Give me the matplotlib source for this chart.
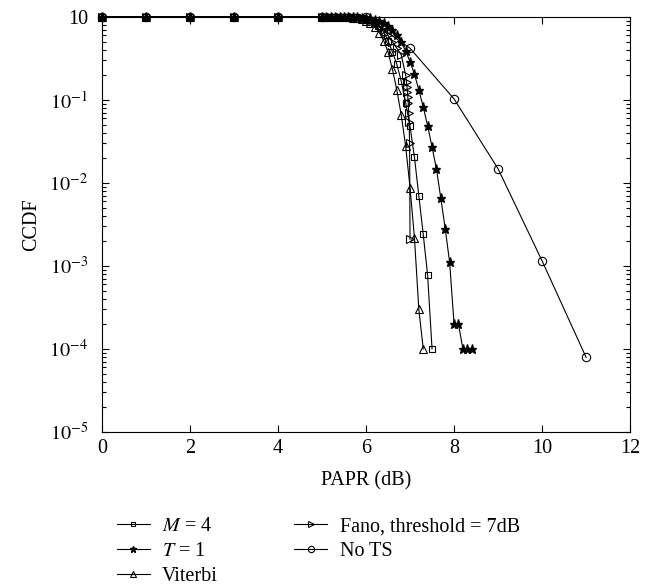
"""CCDF of PAPR for the tree-search schemes"""

import numpy as np
import matplotlib
matplotlib.use("Agg")
import matplotlib.pyplot as plt
from matplotlib.ticker import LogLocator, NullFormatter

plt.rcParams['font.family'] = ['Liberation Serif', 'DejaVu Serif']
plt.rcParams['mathtext.fontset'] = 'stix'
plt.rcParams['font.size'] = 14.5

# shared PAPR grid (dB)
papr_fine = [0, 1, 2, 3, 4, 5.0, 5.1, 5.2, 5.3, 5.4, 5.5, 5.6, 5.7, 5.8, 5.9,
             6.0, 6.1, 6.2, 6.3, 6.4, 6.5, 6.6, 6.7, 6.8, 6.9, 7.0, 7.1, 7.2,
             7.3, 7.4, 7.5, 7.6, 7.7, 7.8, 7.9, 8.0, 8.1, 8.2, 8.3, 8.4]

ccdf_m4 = [1, 1, 1, 1, 1, 1, 1, 1, 1, 1, 1, 0.998, 0.995, 0.99, 0.975,
           0.95, 0.91, 0.85, 0.77, 0.66, 0.52, 0.38, 0.27, 0.169, 0.093,
           0.048, 0.0205, 0.0070, 0.0024, 7.7e-4, 1.0e-4]

ccdf_t1 = [1, 1, 1, 1, 1, 1, 1, 1, 1, 1, 0.999, 0.998, 0.995, 0.99, 0.985,
           0.975, 0.96, 0.93, 0.89, 0.84, 0.77, 0.69, 0.6, 0.5, 0.39,
           0.29, 0.205, 0.132, 0.082, 0.049, 0.027, 0.0148, 0.0065, 0.0028,
           0.0011, 2e-4, 2e-4, 1e-4, 1e-4, 1e-4]

ccdf_viterbi = [1, 1, 1, 1, 1, 1, 1, 1, 0.999, 0.998, 0.995, 0.99, 0.98,
                0.965, 0.94, 0.9, 0.84, 0.76, 0.65, 0.52, 0.38, 0.234, 0.132,
                0.066, 0.028, 0.0088, 0.0022, 3.0e-4, 1.0e-4]

papr_fano = [0, 1, 2, 3, 4, 5.0, 5.1, 5.2, 5.3, 5.4, 5.5, 5.6, 5.7, 5.8, 5.9,
             6.0, 6.1, 6.2, 6.3, 6.4, 6.5, 6.6, 6.7, 6.8, 6.9, 6.92, 6.93,
             6.94, 6.95, 6.96, 6.97, 6.98, 6.99, 7.0]
ccdf_fano = [1, 1, 1, 1, 1, 1, 1, 1, 1, 1, 1, 0.998, 0.995, 0.99, 0.98,
             0.96, 0.93, 0.88, 0.8, 0.7, 0.6, 0.5, 0.42, 0.35, 0.2, 0.166,
             0.145, 0.126, 0.108, 0.091, 0.07, 0.055, 0.03, 0.0021]

papr_nots = [0, 1, 2, 3, 4, 5, 6, 7, 8, 9, 10, 11]
ccdf_nots = [1, 1, 1, 1, 1, 1, 0.99, 0.42, 0.103, 0.0148, 0.00115, 7.9e-5]

xticks = [0, 2, 4, 6, 8, 10, 12]
yticks = [1, 1e-1, 1e-2, 1e-3, 1e-4, 1e-5]
ytick_labels = ['10', r'$10^{-1}$', r'$10^{-2}$', r'$10^{-3}$',
                r'$10^{-4}$', r'$10^{-5}$']


def main():
    fig = plt.figure(figsize=(6.53, 5.86), dpi=100)
    ax = fig.add_axes([0.156, 0.263, 0.809, 0.708])

    style = dict(color='black', lw=0.8, clip_on=False)
    ax.plot(papr_fine[:len(ccdf_m4)], ccdf_m4, marker='s', ms=4.5,
            mfc='none', mec='black', mew=0.8, label=r'$M$ = 4', **style)
    ax.plot(papr_fine[:len(ccdf_t1)], ccdf_t1, marker='*', ms=6.5,
            mfc='black', mec='black', label=r'$T$ = 1', **style)
    ax.plot(papr_fine[:len(ccdf_viterbi)], ccdf_viterbi, marker='^', ms=5.5,
            mfc='none', mec='black', mew=0.8, label='Viterbi', **style)
    ax.plot(papr_fano, ccdf_fano, marker='>', ms=5.5,
            mfc='none', mec='black', mew=0.8,
            label='Fano, threshold = 7dB', **style)
    ax.plot(papr_nots, ccdf_nots, marker='o', ms=6,
            mfc='none', mec='black', mew=0.8, label='No TS', **style)

    ax.set_yscale('log')
    ax.set_xlim(0, 12)
    ax.set_ylim(1e-5, 1)
    ax.set_xticks(xticks)
    ax.set_yticks(yticks)
    ax.set_yticklabels(ytick_labels)
    ax.yaxis.set_minor_locator(LogLocator(base=10, subs=np.arange(2, 10)))
    ax.yaxis.set_minor_formatter(NullFormatter())
    ax.tick_params(which='both', direction='in', top=True, right=True,
                   width=0.8)
    ax.tick_params(which='major', length=5)
    ax.tick_params(which='minor', length=3)
    ax.tick_params(axis='x', pad=5)
    ax.tick_params(axis='y', pad=10)
    for sp in ax.spines.values():
        sp.set_linewidth(0.8)

    ax.set_xlabel('PAPR (dB)', labelpad=10)
    ax.set_ylabel('CCDF', labelpad=6)

    fig.legend(loc='upper left', bbox_to_anchor=(0.163, 0.135), ncol=2,
               frameon=False, borderpad=0, handlelength=1.65,
               handletextpad=0.6, columnspacing=3.8, labelspacing=0.3,
               markerscale=0.75)

    fig.savefig('out.png', dpi=100)


if __name__ == "__main__":
    main()
